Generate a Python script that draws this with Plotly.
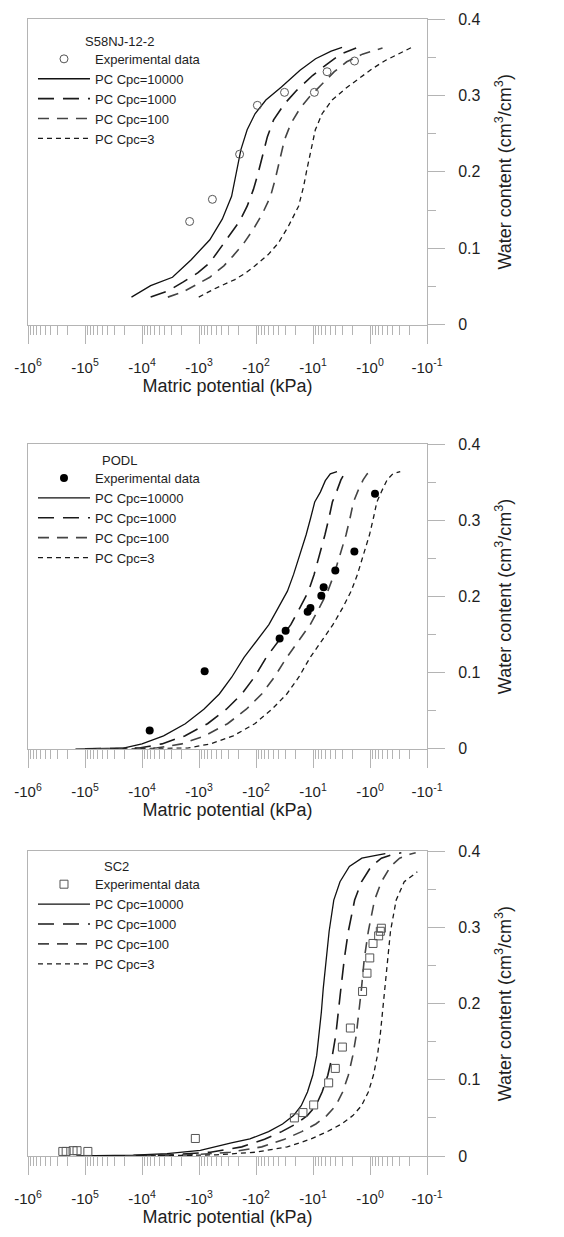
import plotly.graph_objects as go

# ---- S58NJ-12-2 (matric potential in kPa, water content in cm3/cm3) ----
s58_exp_psi = [-1460, -582, -194, -94.6, -31.6, -9.46, -5.66, -1.87]
s58_exp_theta = [0.135, 0.164, 0.223, 0.287, 0.304, 0.304, 0.331, 0.345]

s58_c10000_psi = [-15300, -7050, -2920, -1370, -646, -391, -268, -222, -184, -143,
                  -104, -67.1, -35.8, -16.9, -9.0, -4.80, -3.09]
s58_c10000_theta = [0.036, 0.051, 0.062, 0.085, 0.111, 0.138, 0.168, 0.198, 0.229, 0.255,
                    0.276, 0.294, 0.311, 0.333, 0.348, 0.358, 0.363]
s58_c1000_psi = [-7050, -3520, -1880, -1040, -646, -443, -304, -195, -143, -111,
                 -92.0, -78.2, -63.1, -49.1, -31.6, -19.1, -10.2, -5.43, -3.29, -1.75]
s58_c1000_theta = [0.036, 0.044, 0.056, 0.068, 0.081, 0.098, 0.116, 0.135, 0.155, 0.177,
                   0.198, 0.220, 0.246, 0.268, 0.289, 0.307, 0.326, 0.342, 0.354, 0.362]
s58_c100_psi = [-3520, -1880, -1070, -646, -366, -252, -162, -111, -76.2, -55.6, -46.1,
                -38.2, -31.6, -24.5, -16.9, -11.6, -7.0, -4.23, -2.56, -1.36, -0.603]
s58_c100_theta = [0.036, 0.043, 0.053, 0.062, 0.077, 0.090, 0.107, 0.125, 0.146, 0.168, 0.190,
                  0.216, 0.242, 0.263, 0.283, 0.298, 0.315, 0.331, 0.344, 0.354, 0.362]
s58_c3_psi = [-1010, -530, -235, -156, -104, -60.5, -40.4, -26.9, -17.9, -14.6, -12.8,
              -11.1, -9.1, -6.93, -4.62, -2.69, -1.56, -0.910, -0.530, -0.308, -0.184]
s58_c3_theta = [0.036, 0.047, 0.059, 0.067, 0.077, 0.092, 0.107, 0.129, 0.155, 0.181, 0.203,
                0.224, 0.255, 0.276, 0.294, 0.309, 0.322, 0.335, 0.346, 0.355, 0.363]

# ---- PODL ----
podl_exp_psi = [-7330, -796, -38.5, -30.2, -12.4, -11.1, -7.14, -6.50, -4.06, -1.88, -0.817]
podl_exp_theta = [0.024, 0.102, 0.145, 0.155, 0.180, 0.185, 0.201, 0.212, 0.234, 0.259, 0.335]

podl_c10000_psi = [-147000, -21200, -10000, -4180, -1740, -822, -440, -267, -162, -97.9, -59.4,
                   -40.8, -28.1, -21.9, -17.0, -13.2, -11.0, -9.33, -7.43, -6.08, -4.97, -3.79]
podl_c10000_theta = [0, 0.001, 0.0065, 0.017, 0.033, 0.052, 0.072, 0.094, 0.120, 0.142, 0.163,
                     0.185, 0.207, 0.229, 0.255, 0.281, 0.303, 0.324, 0.337, 0.352, 0.361, 0.364]
podl_c1000_psi = [-100000, -11200, -4470, -1780, -708, -331, -178, -107, -66.1, -39.8, -24.5,
                  -17.0, -12.0, -9.55, -7.59, -6.17, -5.25, -4.57, -3.80, -3.24, -2.82, -2.45]
podl_c1000_theta = [0, 0.001, 0.0065, 0.017, 0.033, 0.052, 0.072, 0.094, 0.120, 0.142, 0.163,
                    0.185, 0.207, 0.229, 0.255, 0.281, 0.303, 0.324, 0.339, 0.353, 0.361, 0.364]
podl_c100_psi = [-63100, -5620, -2000, -794, -316, -148, -79.4, -47.9, -28.8, -17.8, -11.2,
                 -7.76, -5.50, -4.27, -3.31, -2.63, -2.24, -1.95, -1.62, -1.32, -1.12, -0.933]
podl_c100_theta = [0, 0.001, 0.0065, 0.017, 0.033, 0.052, 0.072, 0.094, 0.120, 0.142, 0.163,
                   0.185, 0.207, 0.229, 0.255, 0.281, 0.303, 0.324, 0.339, 0.353, 0.361, 0.364]
podl_c3_psi = [-31600, -1580, -631, -251, -105, -52.5, -28.8, -17.8, -11.2, -7.08, -4.47,
               -3.02, -2.14, -1.66, -1.29, -1.02, -0.871, -0.759, -0.617, -0.501, -0.398, -0.295]
podl_c3_theta = [0, 0.001, 0.0065, 0.017, 0.033, 0.052, 0.072, 0.094, 0.120, 0.142, 0.163,
                 0.185, 0.207, 0.229, 0.255, 0.281, 0.303, 0.324, 0.339, 0.353, 0.361, 0.364]

# ---- SC2 ----
sc2_exp_psi = [-245000, -214000, -162000, -138000, -89100, -1160, -21.2, -15.0, -9.73, -5.31,
               -4.06, -3.05, -2.21, -1.35, -1.13, -1.01, -0.885, -0.705, -0.659, -0.632]
sc2_exp_theta = [0.006, 0.006, 0.007, 0.007, 0.006, 0.023, 0.050, 0.057, 0.067, 0.096,
                 0.115, 0.143, 0.168, 0.216, 0.240, 0.260, 0.279, 0.289, 0.295, 0.299]

sc2_c10000_psi = [-142000, -14000, -3640, -948, -271, -128, -60.1, -34.2, -22.0, -16.1, -12.5,
                  -10.1, -8.61, -7.78, -7.13, -6.61, -5.90, -5.21, -4.32, -3.36, -2.30, -1.39,
                  -0.745, -0.538]
sc2_c10000_theta = [0, 0.001, 0.003, 0.0074, 0.0171, 0.0224, 0.032, 0.042, 0.053, 0.066, 0.084,
                    0.106, 0.132, 0.159, 0.189, 0.220, 0.259, 0.295, 0.336, 0.360, 0.380, 0.391,
                    0.395, 0.397]
sc2_c1000_psi = [-39800, -3160, -631, -178, -70.8, -35.5, -20.0, -12.6, -8.91, -6.92, -5.50,
                 -4.57, -3.98, -3.55, -3.24, -2.82, -2.40, -1.86, -1.41, -0.955, -0.631, -0.398,
                 -0.282]
sc2_c1000_theta = [0, 0.0015, 0.005, 0.012, 0.022, 0.032, 0.042, 0.053, 0.066, 0.084, 0.106,
                   0.132, 0.159, 0.189, 0.220, 0.259, 0.295, 0.336, 0.360, 0.380, 0.391, 0.396,
                   0.398]
sc2_c100_psi = [-20000, -1260, -282, -79.4, -31.6, -15.8, -8.91, -5.75, -3.98, -3.02, -2.40,
                -2.00, -1.74, -1.55, -1.41, -1.26, -1.07, -0.832, -0.631, -0.437, -0.302,
                -0.200, -0.158]
sc2_c100_theta = [0, 0.0015, 0.005, 0.012, 0.022, 0.032, 0.042, 0.053, 0.066, 0.084, 0.106,
                  0.132, 0.159, 0.189, 0.220, 0.259, 0.295, 0.336, 0.360, 0.380, 0.391, 0.396,
                  0.398]
sc2_c3_psi = [-10000, -501, -100, -28.2, -11.2, -5.62, -3.16, -2.00, -1.41, -1.07, -0.871,
              -0.741, -0.661, -0.603, -0.550, -0.501, -0.437, -0.347, -0.251, -0.148]
sc2_c3_theta = [0, 0.0015, 0.005, 0.012, 0.022, 0.032, 0.042, 0.053, 0.066, 0.084, 0.106,
                0.132, 0.159, 0.189, 0.220, 0.259, 0.295, 0.336, 0.360, 0.373]

curve_names = ["PC Cpc=10000", "PC Cpc=1000", "PC Cpc=100", "PC Cpc=3"]
decades = [6, 5, 4, 3, 2, 1, 0, -1]

FONT = "Liberation Sans, Arial, sans-serif"
AXIS = "#b4b4b4"
TXT = "#1e1e1e"

curve_styles = [
    dict(color="#111111", width=1.3, dash="solid"),
    dict(color="#1a1a1a", width=1.6, dash="16px,9px"),
    dict(color="#444444", width=1.6, dash="11px,8px"),
    dict(color="#1a1a1a", width=1.3, dash="5px,4px"),
]

# page body adds an 8px offset, margins below take that into account
panels = [
    dict(name="S58NJ-12-2",
         exp=(s58_exp_psi, s58_exp_theta),
         curves=[(s58_c10000_psi, s58_c10000_theta), (s58_c1000_psi, s58_c1000_theta),
                 (s58_c100_psi, s58_c100_theta), (s58_c3_psi, s58_c3_theta)],
         marker=dict(symbol="circle-open", size=8, color="#555555", line=dict(width=1)),
         domain=[0.7312, 1.0], leg_y=0.9781, title_xy=(0.1378, 0.9801)),
    dict(name="PODL",
         exp=(podl_exp_psi, podl_exp_theta),
         curves=[(podl_c10000_psi, podl_c10000_theta), (podl_c1000_psi, podl_c1000_theta),
                 (podl_c100_psi, podl_c100_theta), (podl_c3_psi, podl_c3_theta)],
         marker=dict(symbol="circle", size=8, color="#000000"),
         domain=[0.3581, 0.6261], leg_y=0.6095, title_xy=(0.1805, 0.6114)),
    dict(name="SC2",
         exp=(sc2_exp_psi, sc2_exp_theta),
         curves=[(sc2_c10000_psi, sc2_c10000_theta), (sc2_c1000_psi, sc2_c1000_theta),
                 (sc2_c100_psi, sc2_c100_theta), (sc2_c3_psi, sc2_c3_theta)],
         marker=dict(symbol="square-open", size=8, color="#555555", line=dict(width=1)),
         domain=[0.0, 0.2680], leg_y=0.2522, title_xy=(0.1855, 0.2548)),
]

fig = go.Figure()
layout = dict(
    width=564, height=1237,
    margin=dict(l=20, r=145, t=3, b=89),
    paper_bgcolor="white", plot_bgcolor="white",
    font=dict(family=FONT, color=TXT),
    annotations=[],
)

minor_vals = [m * 10.0 ** e for e in range(-1, 6) for m in range(2, 10)]

for i, p in enumerate(panels):
    n = "" if i == 0 else str(i + 1)
    xa, ya, lg = "x" + n, "y" + n, "legend" + n

    for k, (psi, th) in enumerate(p["curves"]):
        fig.add_trace(go.Scatter(
            x=[-v for v in psi], y=th, mode="lines", name=curve_names[k],
            line=curve_styles[k], xaxis=xa, yaxis=ya, legend=lg, legendrank=k + 2,
            hoverinfo="skip"))
    fig.add_trace(go.Scatter(
        x=[-v for v in p["exp"][0]], y=p["exp"][1], mode="markers", name="Experimental data",
        marker=p["marker"], xaxis=xa, yaxis=ya, legend=lg, legendrank=1))

    layout["xaxis" + n] = dict(
        type="log", range=[6, -1], domain=[0, 1], anchor=ya,
        showline=True, mirror=True, linecolor=AXIS, linewidth=1,
        showgrid=False, zeroline=False,
        ticks="outside", ticklen=18, tickcolor=AXIS, tickwidth=1,
        tickvals=[10.0 ** d for d in decades],
        ticktext=["-10<sup>%d</sup>" % d for d in decades],
        tickfont=dict(size=15, color=TXT), ticklabelstandoff=11,
        minor=dict(tickvals=minor_vals, ticks="outside", ticklen=9,
                   tickcolor=AXIS, tickwidth=1, showgrid=False),
        title=dict(text="Matric potential (kPa)", font=dict(size=18, color=TXT), standoff=0),
    )
    layout["yaxis" + n] = dict(
        range=[0, 0.4], domain=p["domain"], anchor=xa, side="right",
        showline=True, mirror=True, linecolor=AXIS, linewidth=1,
        showgrid=False, zeroline=False,
        ticks="outside", ticklen=17, tickcolor=AXIS, tickwidth=1,
        tickvals=[0, 0.1, 0.2, 0.3, 0.4], ticktext=["0", "0.1", "0.2", "0.3", "0.4"],
        tickfont=dict(size=16, color=TXT), ticklabelstandoff=10,
        minor=dict(dtick=0.05, ticks="outside", ticklen=8, tickcolor=AXIS, tickwidth=1,
                   showgrid=False),
        title=dict(text="Water content (cm<sup>3</sup>/cm<sup>3</sup>)",
                   font=dict(size=18, color=TXT), standoff=18),
    )
    layout[lg] = dict(
        x=0.0125, y=p["leg_y"], xanchor="left", yanchor="top",
        bgcolor="rgba(0,0,0,0)", borderwidth=0, itemwidth=52,
        font=dict(size=13, color=TXT), tracegroupgap=0,
    )
    layout["annotations"].append(dict(
        text=p["name"], x=p["title_xy"][0], y=p["title_xy"][1], xref="paper", yref="paper",
        xanchor="left", yanchor="middle", showarrow=False, font=dict(size=13, color=TXT)))

fig.update_layout(**layout)
fig.write_html("out.html")
